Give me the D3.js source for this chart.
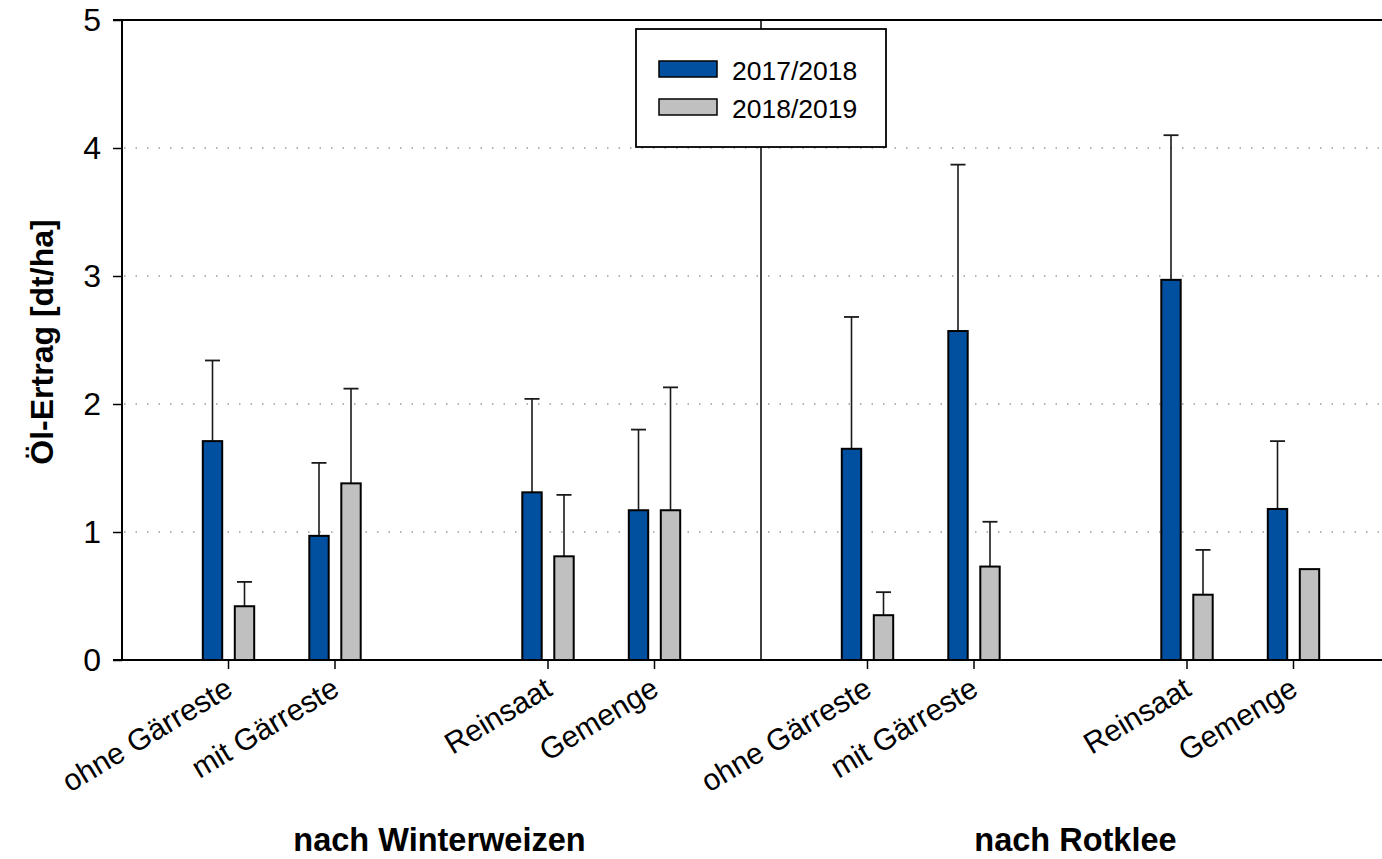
<!DOCTYPE html>
<html>
<head>
<meta charset="utf-8">
<script src="https://cdn.jsdelivr.net/npm/d3@7"></script>
<style>
  html, body { margin: 0; padding: 0; background: #fff; }
  svg { display: block; font-family: "Liberation Sans", Arial, sans-serif; }
</style>
</head>
<body>
<svg id="chart" width="1382" height="859"></svg>
<script>
// Category slots along the x axis (empty strings are spacer slots)
const slots = ["", "ohne Gärreste", "mit Gärreste", "", "Reinsaat", "Gemenge",
               "", "ohne Gärreste", "mit Gärreste", "", "Reinsaat", "Gemenge"];
// Slot index of each treatment that carries bars
const barSlots = [1, 2, 4, 5, 7, 8, 10, 11];
// Series names
const seriesNames = ["2017/2018", "2018/2019"];
// Oil yield [dt/ha]
const yield1718 = [1.71, 0.97, 1.31, 1.17, 1.65, 2.57, 2.97, 1.18];
const yield1819 = [0.42, 1.38, 0.81, 1.17, 0.35, 0.73, 0.51, 0.71];
// Standard deviation (drawn upward only); null = no error bar
const err1718 = [0.63, 0.57, 0.73, 0.63, 1.03, 1.30, 1.13, 0.53];
const err1819 = [0.19, 0.74, 0.48, 0.96, 0.18, 0.35, 0.35, null];
// Group captions and the slot they are centred on
const groups = ["nach Winterweizen", "nach Rotklee"];
const groupSlots = [3, 9];
const yTicks = [0, 1, 2, 3, 4, 5];

const colors = ["#00509F", "#C0C0C0"];

(function draw() {
  const W = 1382;
  const plotLeft = 122, plotTop = 20, plotBottom = 660;
  const slotW = 106.5;

  const svg = d3.select("#chart");

  const x = d3.scaleLinear().domain([0, 12]).range([plotLeft, plotLeft + 12 * slotW]);
  const y = d3.scaleLinear().domain([0, 5]).range([plotBottom, plotTop]);

  // dotted horizontal gridlines
  svg.append("g")
    .selectAll("line")
    .data(yTicks.filter(d => d > 0 && d < 5))
    .join("line")
    .attr("x1", plotLeft + 2).attr("x2", W)
    .attr("y1", d => y(d)).attr("y2", d => y(d))
    .attr("stroke", "#9a9a9a")
    .attr("stroke-width", 1.5)
    .attr("stroke-dasharray", "1.5,10");

  // frame: top line and group divider
  svg.append("line")
    .attr("x1", plotLeft).attr("x2", W).attr("y1", plotTop).attr("y2", plotTop)
    .attr("stroke", "#000").attr("stroke-width", 2);
  svg.append("line")
    .attr("x1", x(6)).attr("x2", x(6)).attr("y1", plotTop).attr("y2", plotBottom)
    .attr("stroke", "#000").attr("stroke-width", 1.5);

  // bars
  const barW = 19.4, barOff = 6.3;
  const series = [
    { vals: yield1718, errs: err1718, color: colors[0], side: -1 },
    { vals: yield1819, errs: err1819, color: colors[1], side: 1 }
  ];

  series.forEach(s => {
    const g = svg.append("g");
    const data = barSlots.map((slot, i) => ({ slot, v: s.vals[i], e: s.errs[i] }));
    const bx = d => s.side < 0 ? x(d.slot) - barOff - barW : x(d.slot) + barOff;

    // error bars (upper half only)
    const eb = data.filter(d => d.e != null);
    g.selectAll("line.err")
      .data(eb).join("line").attr("class", "err")
      .attr("x1", d => bx(d) + barW / 2).attr("x2", d => bx(d) + barW / 2)
      .attr("y1", d => y(d.v)).attr("y2", d => y(d.v + d.e))
      .attr("stroke", "#1a1a1a").attr("stroke-width", 1.6);
    g.selectAll("line.cap")
      .data(eb).join("line").attr("class", "cap")
      .attr("x1", d => bx(d) + barW / 2 - 7.5).attr("x2", d => bx(d) + barW / 2 + 7.5)
      .attr("y1", d => y(d.v + d.e)).attr("y2", d => y(d.v + d.e))
      .attr("stroke", "#1a1a1a").attr("stroke-width", 1.8);

    g.selectAll("rect")
      .data(data).join("rect")
      .attr("x", bx)
      .attr("y", d => y(d.v))
      .attr("width", barW)
      .attr("height", d => y(0) - y(d.v))
      .attr("fill", s.color)
      .attr("stroke", "#000")
      .attr("stroke-width", 2);
  });

  // y axis
  const yAxis = d3.axisLeft(y).tickValues(yTicks).tickSize(9).tickPadding(12).tickFormat(d3.format("d"));
  const gy = svg.append("g").attr("transform", `translate(${plotLeft},0)`).call(yAxis);
  gy.select(".domain").attr("stroke", "#000").attr("stroke-width", 2)
    .attr("d", `M-9,${plotTop}H0V${plotBottom}H-9`);
  gy.selectAll(".tick line").attr("stroke", "#000").attr("stroke-width", 1.5);
  gy.selectAll(".tick text").attr("font-size", 32).attr("fill", "#000")
    .attr("font-family", "'Liberation Sans', Arial, sans-serif");

  // x axis line and ticks
  svg.append("line")
    .attr("x1", plotLeft).attr("x2", W).attr("y1", plotBottom).attr("y2", plotBottom)
    .attr("stroke", "#000").attr("stroke-width", 2);
  svg.append("g").selectAll("line")
    .data(barSlots).join("line")
    .attr("x1", d => x(d)).attr("x2", d => x(d))
    .attr("y1", plotBottom).attr("y2", plotBottom + 9)
    .attr("stroke", "#000").attr("stroke-width", 1.5);

  // rotated category labels
  svg.append("g").selectAll("text")
    .data(barSlots).join("text")
    .attr("transform", d => `translate(${x(d) + 6},${plotBottom + 34}) rotate(-31)`)
    .attr("text-anchor", "end")
    .attr("font-size", 30)
    .attr("fill", "#000")
    .text(d => slots[d]);

  // group captions
  svg.append("g").selectAll("text")
    .data(groups).join("text")
    .attr("x", (d, i) => x(groupSlots[i]) + (i === 0 ? -2 : -5))
    .attr("y", 851)
    .attr("text-anchor", "middle")
    .attr("font-size", 32.5)
    .attr("font-weight", "bold")
    .attr("fill", "#000")
    .text(d => d);

  // y axis title
  svg.append("text")
    .attr("transform", `translate(53,${(plotTop + plotBottom) / 2 + 2}) rotate(-90)`)
    .attr("text-anchor", "middle")
    .attr("font-size", 32)
    .attr("font-weight", "bold")
    .attr("fill", "#000")
    .text("Öl-Ertrag [dt/ha]");

  // legend
  const lg = svg.append("g").attr("transform", "translate(636,29)");
  lg.append("rect").attr("width", 250).attr("height", 118)
    .attr("fill", "#fff").attr("stroke", "#000").attr("stroke-width", 1.8);
  const items = lg.selectAll("g.item").data(seriesNames).join("g").attr("class", "item")
    .attr("transform", (d, i) => `translate(23,${32 + i * 38})`);
  items.append("rect").attr("width", 58).attr("height", 16)
    .attr("fill", (d, i) => colors[i]).attr("stroke", "#000").attr("stroke-width", 1.5);
  items.append("text").attr("x", 73).attr("y", 18.5)
    .attr("font-size", 26.5).attr("fill", "#000").text(d => d);
})();
</script>
</body>
</html>
